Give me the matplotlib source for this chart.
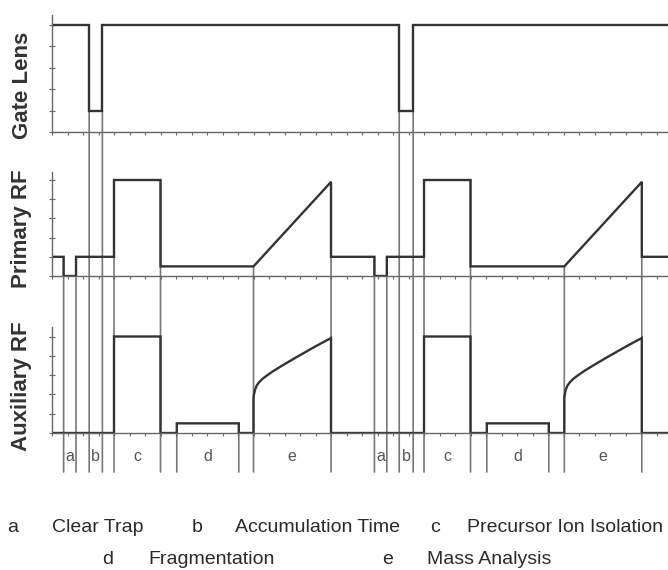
import numpy as np
import matplotlib.pyplot as plt
from matplotlib.patches import ConnectionPatch

plt.rcParams['font.family'] = ['Liberation Sans', 'DejaVu Sans']

# phase boundaries of the two scan cycles (time units)
a_start = [0.75, 20.8]
a_end = [1.55, 21.6]
b_start = [2.4, 22.4]
b_end = [3.25, 23.3]
c_start = [4.0, 24.0]
c_end = [7.0, 27.0]
d_start = [8.05, 28.05]
d_end = [12.05, 32.05]
e_start = [13.0, 33.05]
e_end = [18.0, 38.05]
t_max = 39.74

# signal levels
gate_high, gate_low = 5, 1
prim_hold, prim_isol, prim_base, prim_top = 1, 5, 0.5, 4.9
aux_isol, aux_frag = 5, 0.5
# auxiliary RF during mass analysis: time since start of e, level
aux_scan_dt = [0, 0.03, 0.1, 0.2, 0.35, 0.6, 0.9, 1.26, 1.7, 2.2, 2.75, 3.3, 3.8, 4.3, 5.0]
aux_scan_lv = [1.8, 2.0, 2.25, 2.45, 2.62, 2.82, 3.0, 3.2, 3.42, 3.66, 3.92, 4.17, 4.4, 4.62, 4.92]

region_names = ['a', 'b', 'c', 'd', 'e']
region_text = ['Clear Trap', 'Accumulation Time', 'Precursor Ion Isolation',
               'Fragmentation', 'Mass Analysis']
channels = ['Gate Lens', 'Primary RF', 'Auxiliary RF']

SIG = '#333333'
GUIDE = '#777777'
AXC = '#666666'

## build the step traces
gx, gy = [0], [gate_high]
for s, e in zip(b_start, b_end):
    gx += [s, s, e, e]
    gy += [gate_high, gate_low, gate_low, gate_high]
gx.append(t_max); gy.append(gate_high)

px, py = [0], [prim_hold]
for i in range(2):
    px += [a_start[i], a_start[i], a_end[i], a_end[i], c_start[i], c_start[i],
           c_end[i], c_end[i], e_start[i], e_end[i], e_end[i]]
    py += [prim_hold, 0, 0, prim_hold, prim_hold, prim_isol,
           prim_isol, prim_base, prim_base, prim_top, prim_hold]
px.append(t_max); py.append(prim_hold)

qx, qy = [0], [0]
for i in range(2):
    qx += [c_start[i], c_start[i], c_end[i], c_end[i], d_start[i], d_start[i],
           d_end[i], d_end[i], e_start[i]]
    qy += [0, aux_isol, aux_isol, 0, 0, aux_frag, aux_frag, 0, 0]
    qx += [e_start[i] + dt for dt in aux_scan_dt]
    qy += aux_scan_lv
    qx += [e_end[i]]; qy += [0]
qx.append(t_max); qy.append(0)

## figure: 668 x 570 px
W, H = 668, 570
fig = plt.figure(figsize=(W/100, H/100), dpi=100)

def make_ax(top_px, bottom_px, tick_px):
    ax = fig.add_axes([52/W, 1 - bottom_px/H, (W - 52)/W, (bottom_px - top_px)/H])
    ax.set_facecolor('none')
    ax.set_xlim(0, t_max)
    ax.set_ylim(0, (bottom_px - top_px)/tick_px)
    for sp in ['top', 'right']:
        ax.spines[sp].set_visible(False)
    for sp in ['left', 'bottom']:
        ax.spines[sp].set_color(AXC)
        ax.spines[sp].set_linewidth(1.0)
    ax.set_xticks(np.arange(0, 40))
    ax.set_yticks(np.arange(0, 6))
    ax.tick_params(axis='x', direction='out', length=2.5, width=0.8, color=AXC,
                   labelbottom=False)
    ax.tick_params(axis='y', direction='inout', length=5, width=0.8, color=AXC,
                   labelleft=False)
    return ax

ax_g = make_ax(15, 132, 21.4)
ax_p = make_ax(172, 276, 19.2)
ax_a = make_ax(327, 433, 19.3)
axes = [ax_g, ax_p, ax_a]

ax_g.plot(gx, gy, color=SIG, lw=1.7, solid_joinstyle='miter')
ax_p.plot(px, py, color=SIG, lw=1.7, solid_joinstyle='miter')
ax_a.plot(qx, qy, color=SIG, lw=1.7, solid_joinstyle='miter')

## guide lines running down to the phase labels
guide_bottom = -2.02
for i in range(2):
    guides = [(a_start[i], 1, prim_hold), (a_end[i], 1, prim_hold),
              (b_start[i], 0, gate_low), (b_end[i], 0, gate_low),
              (c_start[i], 1, prim_isol), (c_end[i], 1, prim_isol),
              (d_start[i], 2, aux_frag), (d_end[i], 2, aux_frag),
              (e_start[i], 1, prim_base), (e_end[i], 1, prim_top)]
    for t, k, lv in guides:
        con = ConnectionPatch(xyA=(t, lv), coordsA=axes[k].transData,
                              xyB=(t, guide_bottom), coordsB=ax_a.transData,
                              color=GUIDE, lw=1.2, zorder=-1)
        fig.add_artist(con)
    starts = [a_start[i], b_start[i], c_start[i], d_start[i], e_start[i]]
    ends = [a_end[i], b_end[i], c_end[i], d_end[i], e_end[i]]
    for name, s, e in zip(region_names, starts, ends):
        ax_a.text((s + e)/2, -1.24, name, ha='center', va='center',
                  fontsize=11.5, color='#555555', clip_on=False)

## channel labels
for name, yc in zip(channels, [85, 229, 386]):
    fig.text(22/W, 1 - yc/H, name, rotation=90, ha='center', va='center',
             fontsize=16, fontweight='bold', color='#333333')

## key at the bottom
key_pos = [(13, 52, 527), (197, 235, 527), (435, 467, 527),
           (108, 148, 560), (388, 427, 560)]
for name, desc, (lx, dx, yy) in zip(region_names, region_text, key_pos):
    fig.text(lx/W, 1 - yy/H, name, ha='center', va='center',
             fontsize=14, color='#2a2a2a')
    fig.text(dx/W, 1 - yy/H, desc, ha='left', va='center',
             fontsize=14, color='#2a2a2a')

fig.savefig('out.png', dpi=100)
